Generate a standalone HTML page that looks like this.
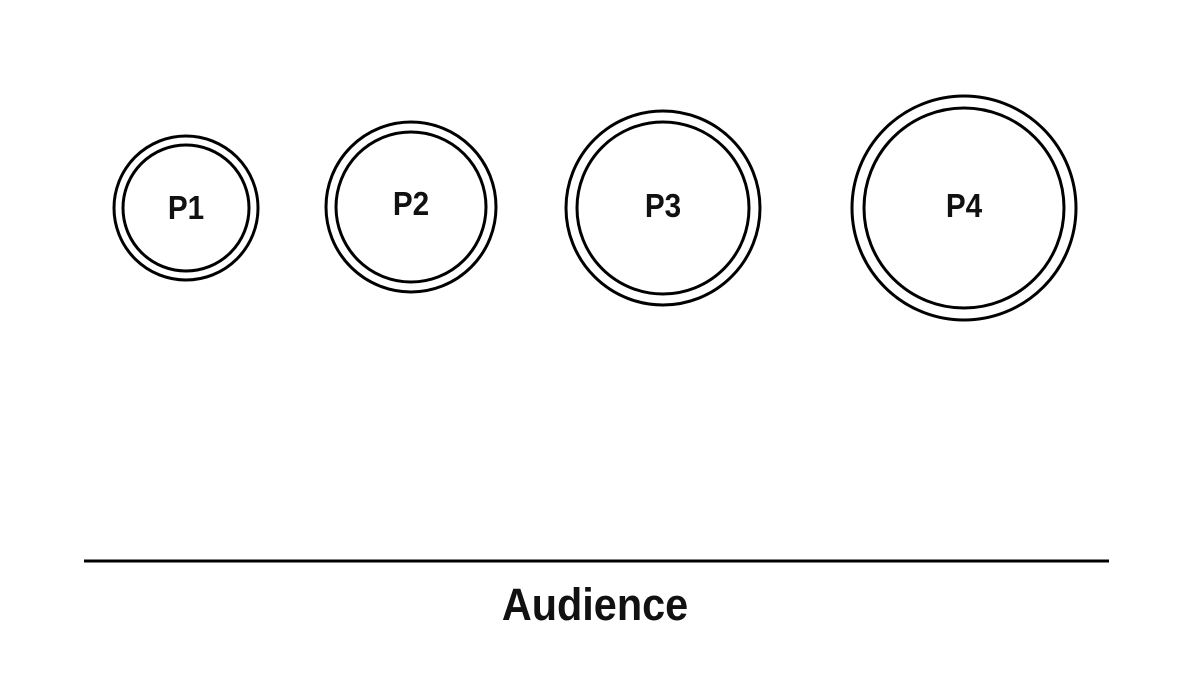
<!DOCTYPE html>
<html><head><meta charset="utf-8"><style>
html,body{margin:0;padding:0;background:#fff;}
</style></head><body>
<svg width="1200" height="668" viewBox="0 0 1200 668" xmlns="http://www.w3.org/2000/svg">
<rect width="1200" height="668" fill="#fff"/>
<g fill="none" stroke="#000" stroke-width="3">
<circle cx="186" cy="208" r="72"/><circle cx="186" cy="208" r="63"/>
<circle cx="411" cy="207" r="85"/><circle cx="411" cy="207" r="75"/>
<circle cx="663" cy="208" r="97"/><circle cx="663" cy="208" r="86"/>
<circle cx="964" cy="208" r="112"/><circle cx="964" cy="208" r="100"/>
</g>
<line x1="84" y1="561" x2="1109" y2="561" stroke="#000" stroke-width="3"/>
<g font-family="Liberation Sans, sans-serif" font-weight="bold" text-anchor="middle" fill="#111">
<text transform="translate(186,219) scale(0.9,1)" font-size="33">P1</text>
<text transform="translate(411,215) scale(0.9,1)" font-size="33">P2</text>
<text transform="translate(663,217) scale(0.9,1)" font-size="33">P3</text>
<text transform="translate(964,217) scale(0.9,1)" font-size="33">P4</text>
<text transform="translate(595,620) scale(0.92,1)" font-size="45">Audience</text>
</g>
</svg>
</body></html>
